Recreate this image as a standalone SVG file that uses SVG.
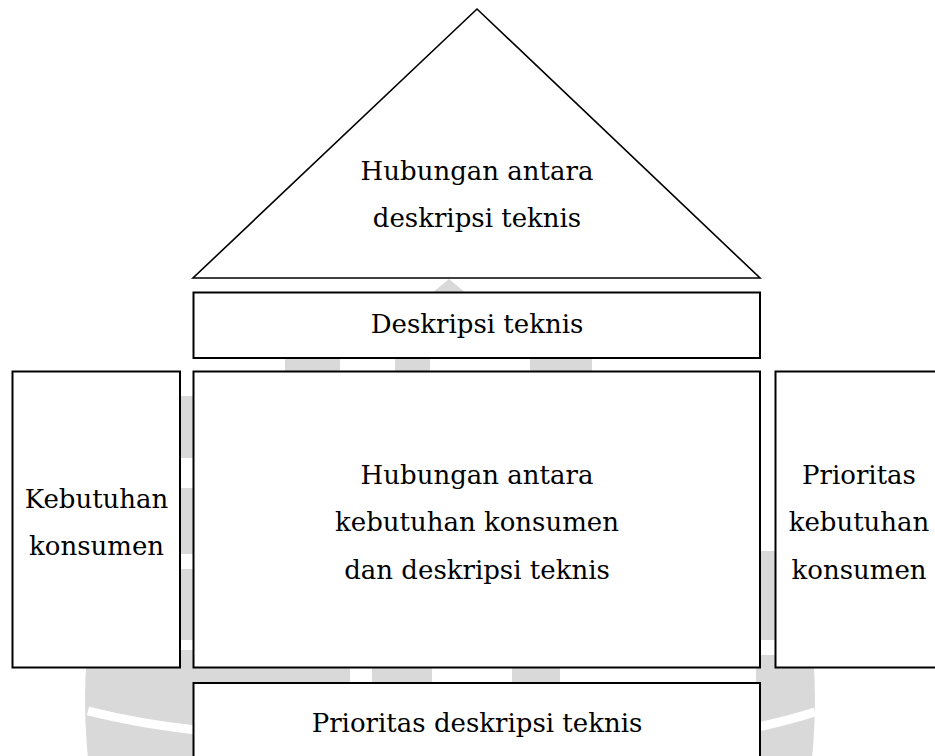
<svg xmlns="http://www.w3.org/2000/svg" width="935" height="756" viewBox="0 0 935 756">
  <style>
    .box { fill: #ffffff; stroke: #000000; stroke-width: 2; }
    .tri { fill: #ffffff; stroke: #000000; stroke-width: 1.6; stroke-linejoin: miter; }
    .lbl { font-family: "DejaVu Serif", "Liberation Serif", serif; font-size: 26px; fill: #000000; text-anchor: middle; }
    .wm { fill: #d9d9d9; stroke: none; }
    .cut { fill: #ffffff; stroke: none; }
    .cutl { fill: none; stroke: #ffffff; stroke-width: 9; }
  </style>
  <rect x="0" y="0" width="935" height="756" fill="#ffffff"/>
  <g id="watermark">
    <ellipse class="wm" cx="450" cy="700" rx="365" ry="450"/>
    <rect class="cut" x="190" y="276" width="575" height="18"/>
    <polygon class="wm" points="449,279 467,294 431,294"/>
    <rect class="cut" x="190" y="356" width="575" height="17"/>
    <rect class="wm" x="285" y="356" width="55" height="17"/>
    <rect class="wm" x="395" y="356" width="35" height="17"/>
    <rect class="wm" x="530" y="356" width="62" height="17"/>
    <rect class="cut" x="178" y="371" width="18" height="25"/>
    <rect class="cut" x="178" y="458" width="18" height="30"/>
    <rect class="cut" x="178" y="554" width="18" height="15"/>
    <rect class="cut" x="178" y="640" width="18" height="10"/>
    <rect class="cut" x="758" y="371" width="20" height="180"/>
    <rect class="cut" x="758" y="640" width="20" height="15"/>
    <rect class="cut" x="196" y="666" width="560" height="19"/>
    <rect class="wm" x="196" y="666" width="154" height="19"/>
    <rect class="wm" x="372" y="666" width="60" height="19"/>
    <rect class="wm" x="512" y="666" width="48" height="19"/>
    <path class="cutl" d="M88,711 Q140,724 196,730"/>
    <path class="cutl" d="M758,727 Q790,720 815,712"/>
  </g>
  <g id="connectors"></g>
  <g id="roof">
    <polygon class="tri" points="477,9 193,278 760,278"/>
    <text class="lbl" x="477" y="179.5">Hubungan antara</text>
    <text class="lbl" x="477" y="226.5">deskripsi teknis</text>
  </g>
  <g id="deskripsi-teknis">
    <rect class="box" x="193.5" y="292.5" width="566.5" height="65.5"/>
    <text class="lbl" x="477" y="332.5">Deskripsi teknis</text>
  </g>
  <g id="kebutuhan-konsumen">
    <rect class="box" x="12.5" y="371.5" width="167.5" height="296"/>
    <text class="lbl" x="96.5" y="507.5">Kebutuhan</text>
    <text class="lbl" x="96.5" y="554.5">konsumen</text>
  </g>
  <g id="hubungan-matriks">
    <rect class="box" x="193.5" y="371.5" width="566.5" height="296"/>
    <text class="lbl" x="477" y="483.5">Hubungan antara</text>
    <text class="lbl" x="477" y="530.5">kebutuhan konsumen</text>
    <text class="lbl" x="477" y="578.5">dan deskripsi teknis</text>
  </g>
  <g id="prioritas-kebutuhan">
    <rect class="box" x="775.5" y="371.5" width="170" height="296"/>
    <text class="lbl" x="859" y="483.5">Prioritas</text>
    <text class="lbl" x="859" y="530.5">kebutuhan</text>
    <text class="lbl" x="859" y="578.5">konsumen</text>
  </g>
  <g id="prioritas-deskripsi">
    <rect class="box" x="193.5" y="683" width="566.5" height="90"/>
    <text class="lbl" x="477" y="732">Prioritas deskripsi teknis</text>
  </g>
</svg>
